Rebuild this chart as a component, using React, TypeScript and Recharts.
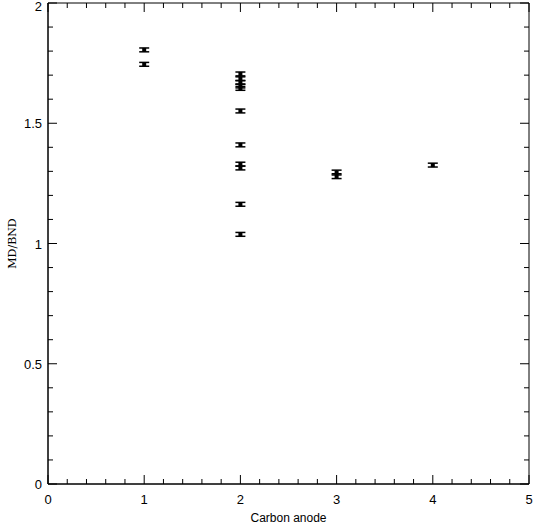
import { ErrorBar, ReferenceArea, Scatter, ScatterChart, XAxis, YAxis } from "recharts";

const anodeCount = [1, 1, 2, 2, 2, 2, 2, 2, 2, 2, 2, 2, 2, 3, 3, 4];
const mdBndRatio = [1.805, 1.745, 1.705, 1.685, 1.67, 1.655, 1.645, 1.551, 1.41, 1.33, 1.314, 1.163, 1.038, 1.295, 1.28, 1.326];
const ratioError = [0.008, 0.008, 0.008, 0.008, 0.008, 0.008, 0.008, 0.008, 0.008, 0.008, 0.008, 0.008, 0.008, 0.01, 0.01, 0.008];

const xTicks = Array.from({ length: 26 }, (_, i) => Number((i * 0.2).toFixed(1)));
const yTicks = Array.from({ length: 21 }, (_, i) => Number((i * 0.1).toFixed(1)));
const xLabels = [0, 1, 2, 3, 4, 5];
const yLabels = [0, 0.5, 1, 1.5, 2];

const data = anodeCount.map((x, i) => ({ x, y: mdBndRatio[i], err: ratioError[i] }));

const W = 533;
const H = 524;
const M = { top: 3, right: 4, left: 8, bottom: 0 };
const Y_AXIS_W = 40;
const X_AXIS_H = 40;
const PLOT_W = W - M.left - M.right - Y_AXIS_W;
const PLOT_H = H - M.top - M.bottom - X_AXIS_H;
const FONT = "Liberation Sans, Arial, sans-serif";

function XTick({ x, y, payload }: any) {
  const v = payload.value;
  const major = xLabels.includes(v);
  const len = major ? 9 : 5;
  return (
    <g>
      <line x1={x} x2={x} y1={y} y2={y - len} stroke="#000" />
      <line x1={x} x2={x} y1={y - PLOT_H} y2={y - PLOT_H + len} stroke="#000" />
      {major && (
        <text x={x} y={y + 20} textAnchor="middle" fontSize={13} fontFamily={FONT} fill="#000">
          {v}
        </text>
      )}
    </g>
  );
}

function YTick({ x, y, payload }: any) {
  const v = payload.value;
  const major = yLabels.includes(v);
  const len = major ? 9 : 5;
  return (
    <g>
      <line x1={x} x2={x + len} y1={y} y2={y} stroke="#000" />
      <line x1={x + PLOT_W} x2={x + PLOT_W - len} y1={y} y2={y} stroke="#000" />
      {major && (
        <text x={x - 6} y={Math.max(y + 5, 11)} textAnchor="end" fontSize={13} fontFamily={FONT} fill="#000">
          {v}
        </text>
      )}
    </g>
  );
}

function Marker({ cx, cy }: any) {
  return <rect x={cx - 2} y={cy - 2} width={4} height={4} fill="#000" />;
}

export default function App() {
  return (
    <div style={{ position: "absolute", left: 0, top: 0, background: "#fff" }}>
      <ScatterChart width={W} height={H} margin={M}>
        <XAxis
          type="number"
          dataKey="x"
          domain={[0, 5]}
          ticks={xTicks}
          interval={0}
          height={X_AXIS_H}
          tickSize={0}
          tickMargin={0}
          tickLine={false}
          axisLine={{ stroke: "#000" }}
          tick={<XTick />}
          label={{ value: "Carbon anode", position: "insideBottom", offset: 2, fontSize: 12, fontFamily: FONT, fill: "#000" }}
        />
        <YAxis
          type="number"
          dataKey="y"
          domain={[0, 2]}
          ticks={yTicks}
          interval={0}
          width={Y_AXIS_W}
          tickSize={0}
          tickMargin={0}
          tickLine={false}
          axisLine={{ stroke: "#000" }}
          tick={<YTick />}
          label={{ value: "MD/BND", angle: -90, position: "insideLeft", offset: 4, fontSize: 11, fontFamily: "DejaVu Serif, serif", fill: "#000", style: { textAnchor: "middle" } }}
        />
        <ReferenceArea x1={0} x2={5} y1={0} y2={2} fill="none" stroke="#000" strokeOpacity={1} fillOpacity={0} />
        <Scatter data={data} shape={<Marker />} isAnimationActive={false}>
          <ErrorBar dataKey="err" direction="y" width={5} stroke="#000" strokeWidth={1.5} isAnimationActive={false} />
        </Scatter>
      </ScatterChart>
    </div>
  );
}
